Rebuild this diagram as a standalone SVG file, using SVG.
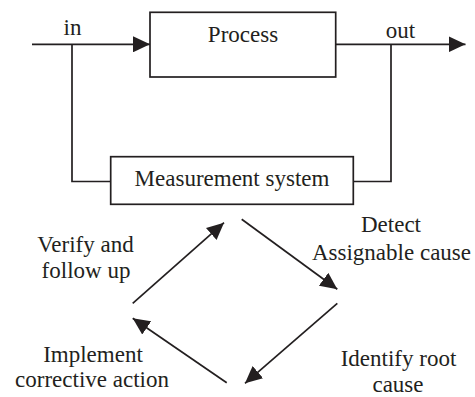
<svg xmlns="http://www.w3.org/2000/svg" width="475" height="397" viewBox="0 0 475 397">
<style>
.box{fill:#fff;stroke:#231f20;stroke-width:1.7}
.ln{fill:none;stroke:#231f20;stroke-width:1.7}
.t{font-family:"Liberation Serif","Times New Roman",serif;font-size:23px;fill:#231f20;text-anchor:middle}
</style>
<defs>
<marker id="ah" markerUnits="userSpaceOnUse" markerWidth="17" markerHeight="16" refX="17" refY="8" orient="auto" viewBox="0 0 17 16">
<path d="M0,0 L17,8 L0,16 z" fill="#231f20"/>
</marker>
</defs>
<g id="connectors">
<line class="ln" x1="32" y1="44.3" x2="150" y2="44.3" marker-end="url(#ah)"/>
<line class="ln" x1="335.7" y1="44.3" x2="465.5" y2="44.3" marker-end="url(#ah)"/>
<polyline class="ln" points="72,44.3 72,181.5 110.7,181.5"/>
<polyline class="ln" points="391,44.3 391,181.5 353.3,181.5"/>
<line class="ln" x1="132.7" y1="303.3" x2="224" y2="222.7" marker-end="url(#ah)"/>
<line class="ln" x1="241.7" y1="219.3" x2="337.3" y2="289.3" marker-end="url(#ah)"/>
<line class="ln" x1="337.3" y1="303.3" x2="245" y2="383.3" marker-end="url(#ah)"/>
<line class="ln" x1="226.7" y1="382.7" x2="132.7" y2="318.3" marker-end="url(#ah)"/>
</g>
<g id="label-in"><text class="t" x="72.5" y="35">in</text></g>
<g id="label-out"><text class="t" x="400.5" y="38">out</text></g>
<g id="process">
<rect class="box" x="150" y="12.3" width="185.7" height="64.7"/>
<text class="t" x="243" y="42">Process</text>
</g>
<g id="measurement">
<rect class="box" x="110.7" y="156.7" width="242.6" height="47.6"/>
<text class="t" x="232" y="186">Measurement system</text>
</g>
<g id="detect">
<text class="t" x="391" y="232">Detect</text>
<text class="t" x="391.5" y="260">Assignable cause</text>
</g>
<g id="identify">
<text class="t" x="398.5" y="366">Identify root</text>
<text class="t" x="398" y="392">cause</text>
</g>
<g id="implement">
<text class="t" x="93" y="361.5">Implement</text>
<text class="t" x="92" y="387">corrective action</text>
</g>
<g id="verify">
<text class="t" x="85.5" y="251.5">Verify and</text>
<text class="t" x="86" y="278">follow up</text>
</g>
</svg>
